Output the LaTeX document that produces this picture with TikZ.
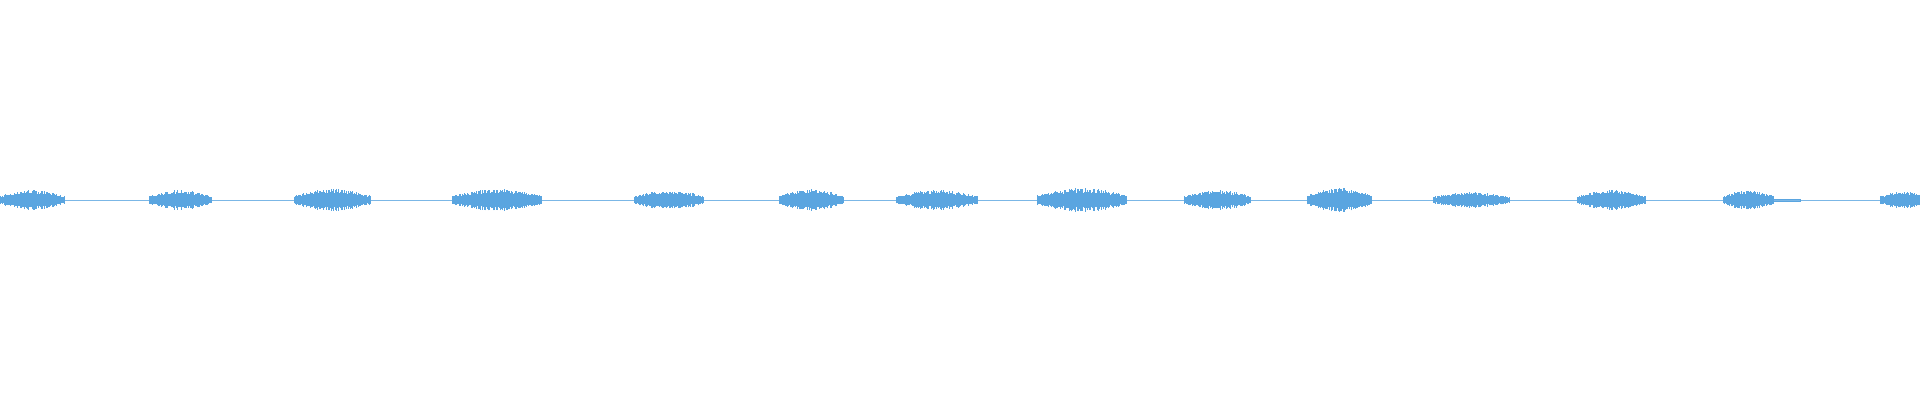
\documentclass[tikz,border=0pt]{standalone}
\usepackage{tikz}
\definecolor{wavecol}{HTML}{5AA5E0}
\tikzset{wave/.style={draw=wavecol,line width=0.8pt},
  baseline/.style={draw=wavecol,line width=0.5pt,opacity=0.8}}
\begin{document}
\begin{tikzpicture}[x=1pt,y=1pt]
	\pgfmathsetseed{7}
	\useasboundingbox[fill=white] (0,0) rectangle (1920,400);
	\draw[baseline] (0,200) -- (1920,200);
	% bursts: start/end/amplitude
	\foreach \a/\b/\h in {0/64/10,149/212/10,294/370/11,452/542/11,634/704/10,779/844/11,
		896/978/10,1037/1127/12,1184/1251/10,1307/1372/12,1433/1509/8,1577/1645/10,1723/1774/10,1880/1925/9}{
		\pgfmathtruncatemacro\n{(\b-\a)*1.25}
		\pgfmathsetmacro\st{180/\n}
		\foreach \i in {0,...,\n}{
			\pgfmathsetmacro\x{\a+\i*0.8}
			\pgfmathsetmacro\s{sin(\st*\i)}
			\pgfmathsetmacro\e{\h*(0.4+0.6*\s)*(0.6+0.4*rnd)}
			\draw[wave] (\x,200-\e) -- (\x,200+\e);
		}
	}
	\draw[wave] (1774,199) -- (1800,199) -- (1800,201) -- (1774,201);
\end{tikzpicture}
\end{document}
